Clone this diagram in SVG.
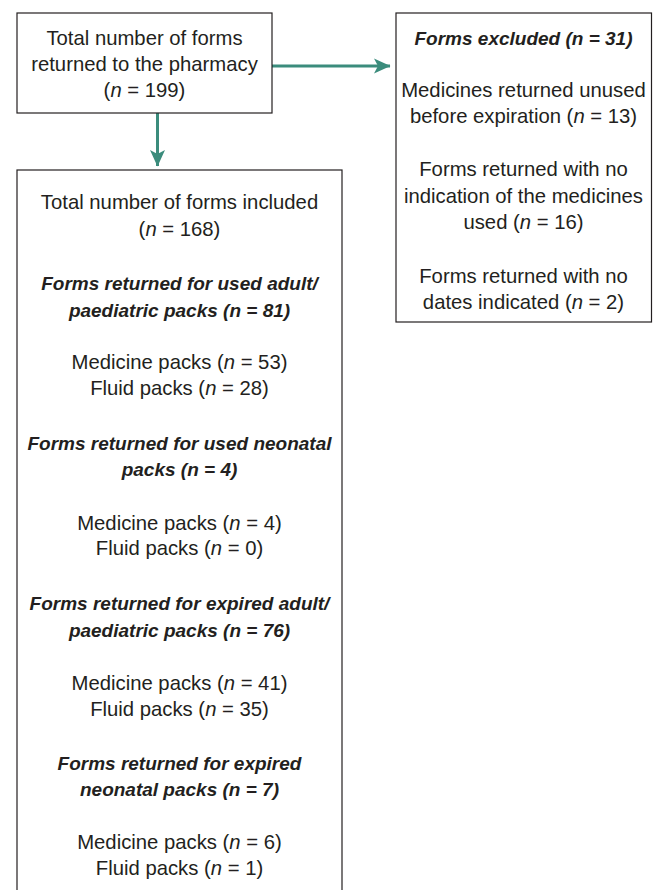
<svg xmlns="http://www.w3.org/2000/svg" width="653" height="890" viewBox="0 0 653 890">
<style>
.box{fill:#ffffff;stroke:#231f20;stroke-width:1.2}
text{font-family:"Liberation Sans",Arial,sans-serif;fill:#231f20;text-anchor:middle}
.r{font-size:20.3px}
.b{font-size:19px;font-weight:bold;font-style:italic}
.i{font-style:italic}
.conn{stroke:#3b8c7c;stroke-width:3;fill:none}
</style>
<defs>
<marker id="ah" markerUnits="userSpaceOnUse" markerWidth="18" markerHeight="16" refX="16" refY="8" orient="auto" viewBox="0 0 18 16">
<path d="M0,0.5 L16.5,8 L0,15.5 L4,8 Z" fill="#3b8c7c"/>
</marker>
</defs>
<rect width="653" height="890" fill="#ffffff"/>
<g id="connectors">
<line class="conn" x1="272" y1="66" x2="390" y2="66" marker-end="url(#ah)"/>
<line class="conn" x1="157.5" y1="113" x2="157.5" y2="166" marker-end="url(#ah)"/>
</g>
<g id="node-total">
<rect class="box" x="17" y="13" width="255" height="100"/>
<text class="r" x="144.5" y="45">Total number of forms</text>
<text class="r" x="144.5" y="71">returned to the pharmacy</text>
<text class="r" x="144.5" y="97">(<tspan class="i">n</tspan> = 199)</text>
</g>
<g id="node-excluded">
<rect class="box" x="396" y="13" width="255.5" height="309"/>
<text class="b" x="523.5" y="45">Forms excluded (n = 31)</text>
<text class="r" x="523.5" y="97">Medicines returned unused</text>
<text class="r" x="523.5" y="123">before expiration (<tspan class="i">n</tspan> = 13)</text>
<text class="r" x="523.5" y="176">Forms returned with no</text>
<text class="r" x="523.5" y="203">indication of the medicines</text>
<text class="r" x="523.5" y="229">used (<tspan class="i">n</tspan> = 16)</text>
<text class="r" x="523.5" y="283">Forms returned with no</text>
<text class="r" x="523.5" y="309">dates indicated (<tspan class="i">n</tspan> = 2)</text>
</g>
<g id="node-included">
<rect class="box" x="17" y="170" width="325" height="730"/>
<text class="r" x="179.5" y="209">Total number of forms included</text>
<text class="r" x="179.5" y="236">(<tspan class="i">n</tspan> = 168)</text>
<text class="b" x="179.5" y="290">Forms returned for used adult/</text>
<text class="b" x="179.5" y="317">paediatric packs (n = 81)</text>
<text class="r" x="179.5" y="369">Medicine packs (<tspan class="i">n</tspan> = 53)</text>
<text class="r" x="179.5" y="395">Fluid packs (<tspan class="i">n</tspan> = 28)</text>
<text class="b" x="179.5" y="450">Forms returned for used neonatal</text>
<text class="b" x="179.5" y="476">packs (n = 4)</text>
<text class="r" x="179.5" y="530">Medicine packs (<tspan class="i">n</tspan> = 4)</text>
<text class="r" x="179.5" y="555">Fluid packs (<tspan class="i">n</tspan> = 0)</text>
<text class="b" x="179.5" y="610">Forms returned for expired adult/</text>
<text class="b" x="179.5" y="637">paediatric packs (n = 76)</text>
<text class="r" x="179.5" y="690">Medicine packs (<tspan class="i">n</tspan> = 41)</text>
<text class="r" x="179.5" y="716">Fluid packs (<tspan class="i">n</tspan> = 35)</text>
<text class="b" x="179.5" y="770">Forms returned for expired</text>
<text class="b" x="179.5" y="796">neonatal packs (n = 7)</text>
<text class="r" x="179.5" y="849">Medicine packs (<tspan class="i">n</tspan> = 6)</text>
<text class="r" x="179.5" y="875">Fluid packs (<tspan class="i">n</tspan> = 1)</text>
</g>
</svg>
